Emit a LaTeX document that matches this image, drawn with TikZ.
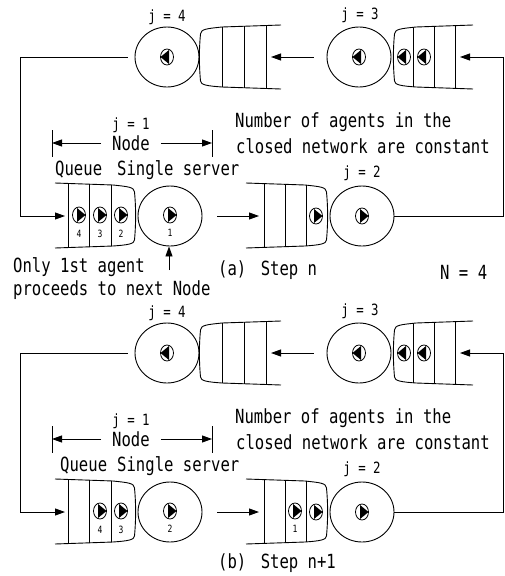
\documentclass[tikz,border=0pt]{standalone}
\usepackage{fontspec}
\usetikzlibrary{arrows.meta,shapes.geometric}
\newfontfamily\gmono[FakeStretch=0.8]{DejaVu Sans Mono}
% leftward queue: cap x, open x, top y, bottom y, verticals
\newcommand\qL[5]{%
\begin{scope}
\clip (#2,#3) -- ({#1+22},{#3+2}) .. controls ({#1+8},{#3+3.5}) and ({#1+0.5},{#3+4}) .. ({#1+0.5},{#3+9}) .. controls ({#1-1},{#3+25}) and ({#1-1},{#4-25}) .. ({#1+0.5},{#4-8}) .. controls ({#1+0.5},{#4-4}) and ({#1+8},{#4-3}) .. ({#1+22},{#4-2}) -- (#2,#4) -- cycle;
\foreach \xx in {#5} {\draw[qline] (\xx,{#3-2}) -- (\xx,{#4+2});}
\end{scope}
\draw[qline] (#2,#3) -- ({#1+22},{#3+2}) .. controls ({#1+8},{#3+3.5}) and ({#1+0.5},{#3+4}) .. ({#1+0.5},{#3+9}) .. controls ({#1-1},{#3+25}) and ({#1-1},{#4-25}) .. ({#1+0.5},{#4-8}) .. controls ({#1+0.5},{#4-4}) and ({#1+8},{#4-3}) .. ({#1+22},{#4-2}) -- (#2,#4);
}
% rightward queue: cap x, open x, top y, bottom y, verticals
\newcommand\qR[5]{%
\begin{scope}
\clip (#2,#3) -- ({#1-22},{#3+2}) .. controls ({#1-8},{#3+3.5}) and ({#1-0.5},{#3+4}) .. ({#1-0.5},{#3+9}) .. controls ({#1+1},{#3+25}) and ({#1+1},{#4-25}) .. ({#1-0.5},{#4-8}) .. controls ({#1-0.5},{#4-4}) and ({#1-8},{#4-3}) .. ({#1-22},{#4-2}) -- (#2,#4) -- cycle;
\foreach \xx in {#5} {\draw[qline] (\xx,{#3-2}) -- (\xx,{#4+2});}
\end{scope}
\draw[qline] (#2,#3) -- ({#1-22},{#3+2}) .. controls ({#1-8},{#3+3.5}) and ({#1-0.5},{#3+4}) .. ({#1-0.5},{#3+9}) .. controls ({#1+1},{#3+25}) and ({#1+1},{#4-25}) .. ({#1-0.5},{#4-8}) .. controls ({#1-0.5},{#4-4}) and ({#1-8},{#4-3}) .. ({#1-22},{#4-2}) -- (#2,#4);
}
% common frame of one panel: #1 suffix, #2 x of "Queue"
\newcommand\panelbase[2]{%
\node[server] (s4#1) at (167,57) {};
\node[server] (s3#1) at (359,57) {};
\node[server] (s1#1) at (170,216) {};
\node[server] (s2#1) at (362,216) {};
\qL{200}{281}{25}{89}{222,244,266}
\qL{394}{473}{25}{89}{413,434,455}
\qR{135}{55}{183}{248}{68,89,111}
\qR{327}{246}{183}{248}{264,285,306}
\node[jlab] (j4#1) at (167,17) {j = 4};
\node[jlab] (j3#1) at (360,15) {j = 3};
\node[jlab] (j2#1) at (362,173) {j = 2};
\node[jlab] (j1#1) at (131,125) {j = 1};
\node[txt, anchor=center, inner xsep=11pt] (nd#1) at (131,143) {Node};
\draw[conn] (52,130) -- (52,157);
\draw[conn] (212,130) -- (212,157);
\coordinate (tl#1) at (52,143);
\coordinate (tr#1) at (212,143);
\draw[arr] (nd#1.west) -- (tl#1);
\draw[arr] (nd#1.east) -- (tr#1);
\node[txt] (nb#1) at (235,122) {Number of agents in the};
\node[txt] (cl#1) at (236,146) {closed network are constant};
\node[txt] (qu#1) at (#2,170) {Queue};
\node[txt] (ss#1) at (117,170) {Single server};
\coordinate (q4in#1) at (271,57);
\coordinate (q3in#1) at (460,57);
\coordinate (q1in#1) at (65,216);
\coordinate (q2in#1) at (259,216);
\draw[arr] ([xshift=-13pt]s3#1.west) -- (q4in#1);
\draw[arr] ([xshift=-7pt]s4#1.west) -| (20,216) -- (q1in#1);
\draw[arr] ([xshift=15pt]s1#1.east) -- (q2in#1);
\draw[arr] (s2#1.east) -| (503,57) -- (q3in#1);
}
\begin{document}
\begin{tikzpicture}[x=1pt,y=-1pt,
  server/.style={draw, ellipse, minimum width=64pt, minimum height=60pt, inner sep=0pt, line width=0.9pt},
  txt/.style={font=\gmono\fontsize{19.5}{20}\selectfont, inner sep=0pt, anchor=west},
  jlab/.style={font=\gmono\fontsize{15.5}{16}\selectfont, inner sep=0pt},
  dig/.style={font=\gmono\fontsize{10}{11}\selectfont, inner sep=0pt},
  conn/.style={line width=0.9pt},
  qline/.style={line width=0.9pt},
  arr/.style={conn, -{Triangle[length=10pt,width=7pt]}},
  agR/.pic={\draw[line width=0.8pt,fill=white] (0,0) ellipse [x radius=6.5, y radius=8];
            \fill (-2,-7) -- (6.5,0) -- (-2,7) -- cycle;},
  agL/.pic={\draw[line width=0.8pt,fill=white] (0,0) ellipse [x radius=6.5, y radius=8];
            \fill (2,-7) -- (-6.5,0) -- (2,7) -- cycle;}
]
\useasboundingbox (0,0) rectangle (504,576);
% ---------- panel (a)
\begin{scope}
\panelbase{a}{55}
\pic at (167,57) {agL};
\pic at (359,57) {agL};
\pic at (404,57) {agL};
\pic at (424,57) {agL};
\pic at (79,215) {agR};
\pic at (100,215) {agR};
\pic at (121,215) {agR};
\pic at (170,215) {agR};
\pic at (316,216) {agR};
\pic at (362,216) {agR};
\node[dig] (d4a) at (79,234) {4};
\node[dig] (d3a) at (100,234) {3};
\node[dig] (d2a) at (121,234) {2};
\node[dig] (d1a) at (170,233) {1};
\coordinate (upa) at (169,270);
\draw[arr] (upa) -- (upa |- s1a.south);
\node[txt] (only) at (13,267) {Only 1st agent};
\node[txt] (proc) at (13,290) {proceeds to next Node};
\node[txt] (capa) at (218,270) {(a)\hspace{5pt} Step n};
\node[txt] (nn) at (440,272) {N = 4};
\end{scope}
% ---------- panel (b)
\begin{scope}[shift={(0,296)}]
\panelbase{b}{60}
\pic at (167,57) {agL};
\pic at (359,57) {agL};
\pic at (404,57) {agL};
\pic at (424,57) {agL};
\pic at (100,215) {agR};
\pic at (121,215) {agR};
\pic at (170,215) {agR};
\pic at (295,215) {agR};
\pic at (316,216) {agR};
\pic at (362,216) {agR};
\node[dig] (d4b) at (100,234) {4};
\node[dig] (d3b) at (121,234) {3};
\node[dig] (d2b) at (170,233) {2};
\node[dig] (d1b) at (295,233) {1};
\node[txt] (capb) at (218,267) {(b)\hspace{5pt} Step n+1};
\end{scope}
\end{tikzpicture}
\end{document}
